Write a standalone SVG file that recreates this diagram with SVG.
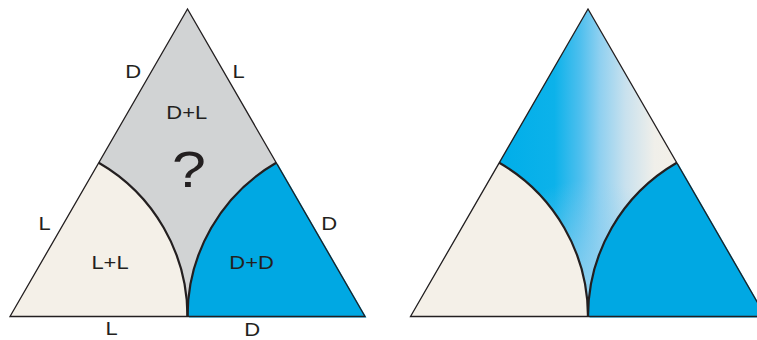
<svg xmlns="http://www.w3.org/2000/svg" width="757" height="340" viewBox="0 0 757 340">
  <style>
    .grey { fill: #d1d3d4; }
    .cream { fill: #f4f0e8; }
    .blue { fill: #00a8e3; }
    .edge { fill: none; stroke: #231f20; stroke-width: 1.3; stroke-linejoin: miter; }
    .arc { fill: none; stroke: #231f20; stroke-width: 2.2; }
    .lbl { font-family: "Liberation Sans", Arial, sans-serif; font-size: 18px; fill: #231f20; }
    .q { font-family: "Liberation Sans", Arial, sans-serif; font-size: 50px; fill: #231f20; }
  </style>
  <defs>
    <linearGradient id="mix" gradientUnits="userSpaceOnUse" x1="498" y1="0" x2="680" y2="0">
      <stop offset="0" stop-color="#00aee9"/>
      <stop offset="0.31" stop-color="#0cb2ea"/>
      <stop offset="0.45" stop-color="#4dbfee"/>
      <stop offset="0.56" stop-color="#8fd0f0"/>
      <stop offset="0.70" stop-color="#c8e1ee"/>
      <stop offset="0.86" stop-color="#f0efea"/>
      <stop offset="1" stop-color="#f4f0e8"/>
    </linearGradient>
    <radialGradient id="glow" gradientUnits="userSpaceOnUse" cx="588" cy="290" r="110">
      <stop offset="0" stop-color="#8fd0f0" stop-opacity="0.9"/>
      <stop offset="0.6" stop-color="#8fd0f0" stop-opacity="0.35"/>
      <stop offset="1" stop-color="#8fd0f0" stop-opacity="0"/>
    </radialGradient>
  </defs>

  <!-- Left triangle -->
  <g id="left-triangle">
    <path class="grey" d="M10,316.5 L187.5,9 L365,316.5 Z"/>
    <path class="cream" d="M10,316.5 L98.75,162.75 A177.5,177.5 0 0 1 187.5,316.5 Z"/>
    <path class="blue" transform="translate(1.5,1)" d="M187.5,316.5 A177.5,177.5 0 0 1 276.25,162.75 L365,316.5 Z"/>
    <path class="blue" d="M187.5,316.5 A177.5,177.5 0 0 1 276.25,162.75 L365,316.5 Z"/>
    <path class="edge" d="M10,316.5 L187.5,9 L365,316.5 Z"/>
    <path class="arc" d="M98.75,162.75 A177.5,177.5 0 0 1 187.5,316.5"/>
    <path class="arc" d="M187.5,316.5 A177.5,177.5 0 0 1 276.25,162.75"/>
  </g>

  <g id="left-labels">
    <text class="lbl" x="125.3" y="78" textLength="15.9" lengthAdjust="spacingAndGlyphs">D</text>
    <text class="lbl" x="232.4" y="78" textLength="12.2" lengthAdjust="spacingAndGlyphs">L</text>
    <text class="lbl" x="166.3" y="119" textLength="40.9" lengthAdjust="spacingAndGlyphs">D+L</text>
    <text class="q" x="172" y="187" textLength="33.9" lengthAdjust="spacingAndGlyphs">?</text>
    <text class="lbl" x="38.4" y="230" textLength="12.2" lengthAdjust="spacingAndGlyphs">L</text>
    <text class="lbl" x="91.4" y="269" textLength="37.2" lengthAdjust="spacingAndGlyphs">L+L</text>
    <text class="lbl" x="321.3" y="230" textLength="15.9" lengthAdjust="spacingAndGlyphs">D</text>
    <text class="lbl" x="229.3" y="269" textLength="44.5" lengthAdjust="spacingAndGlyphs">D+D</text>
    <text class="lbl" x="105.4" y="335" textLength="12.2" lengthAdjust="spacingAndGlyphs">L</text>
    <text class="lbl" x="244.3" y="336" textLength="15.9" lengthAdjust="spacingAndGlyphs">D</text>
  </g>

  <!-- Right triangle -->
  <g id="right-triangle">
    <path fill="url(#mix)" d="M410.5,316.5 L588,9 L765.5,316.5 Z"/>
    <path fill="url(#glow)" d="M499.25,162.75 A177.5,177.5 0 0 1 588,316.5 A177.5,177.5 0 0 1 676.75,162.75 L588,9 Z"/>
    <path class="cream" d="M410.5,316.5 L499.25,162.75 A177.5,177.5 0 0 1 588,316.5 Z"/>
    <path class="blue" transform="translate(1.5,1)" d="M588,316.5 A177.5,177.5 0 0 1 676.75,162.75 L765.5,316.5 Z"/>
    <path class="blue" d="M588,316.5 A177.5,177.5 0 0 1 676.75,162.75 L765.5,316.5 Z"/>
    <path class="edge" d="M410.5,316.5 L588,9 L765.5,316.5 Z"/>
    <path class="arc" d="M499.25,162.75 A177.5,177.5 0 0 1 588,316.5"/>
    <path class="arc" d="M588,316.5 A177.5,177.5 0 0 1 676.75,162.75"/>
  </g>
</svg>
